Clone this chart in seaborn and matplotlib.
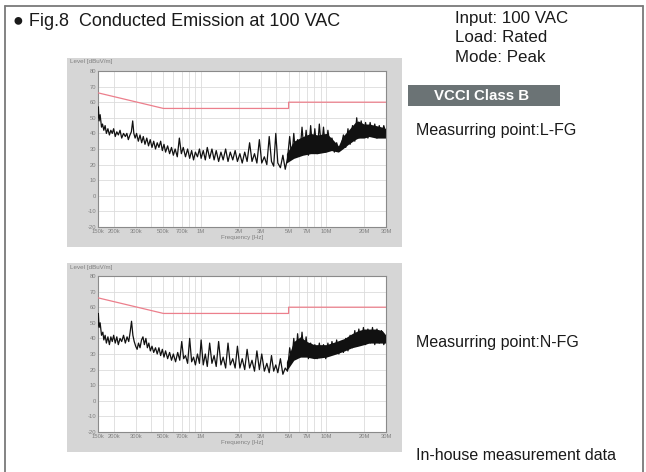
import matplotlib
matplotlib.use("Agg")
import matplotlib.pyplot as plt
from matplotlib.patches import Rectangle
from matplotlib.lines import Line2D
import seaborn as sns
import pandas as pd

# limit line (VCCI class B), MHz / dBuV
limit_freq = [0.15, 0.5, 5.0, 5.0, 30.0]
limit_level = [66, 56, 56, 60, 60]

# L-FG trace, kHz / dBuV
lfg_freq = [150, 151, 153, 156, 160, 163,
            167, 171, 175, 180, 185, 190, 195, 200, 206, 212, 218, 225, 232, 240, 248, 255, 262, 270, 277, 284, 290, 297,
            305, 315, 325, 335, 345, 356, 368, 380, 392, 405, 418, 432, 446, 460, 475, 490,
            505, 520, 540, 560, 580, 600, 620, 645, 670, 695, 720, 750, 780, 810, 840, 870, 900, 935, 970,
            1000, 1040, 1080, 1120, 1170, 1220, 1270, 1320, 1380, 1440, 1500, 1570, 1640, 1710, 1790, 1870, 1950,
            2040, 2130, 2230, 2330, 2440, 2550, 2670, 2790, 2920,
            3050, 3200, 3350, 3500, 3650, 3800, 3950, 4100, 4300, 4500, 4700, 4900,
            5100, 5300, 5500, 5700, 5900,
            6150, 6400, 6650, 6900, 7200, 7500, 7800, 8100, 8450, 8800, 9150, 9500, 9900, 10300,
            10700, 11100, 11600, 12100, 12600, 13100,
            13700, 14300, 14900, 15500, 16200, 16900,
            17500, 18200, 19000, 19800, 20600, 21500, 22400, 23400, 24400, 25400, 26500, 27600, 28800, 30000]
lfg_level = [50, 57, 48, 52, 44, 46,
             42, 45, 40, 43, 39, 42, 40, 43, 38, 41, 39, 42, 37, 40, 38, 40, 36, 39, 41, 48, 40, 37,
             40, 35, 39, 34, 38, 33, 37, 32, 36, 31, 35, 30, 34, 31, 35, 29,
             33, 28, 32, 27, 31, 26, 30, 25, 37, 27, 31, 25, 30, 24, 29, 23, 28, 25, 30,
             24, 29, 23, 31, 24, 30, 23, 29, 22, 28, 23, 30, 22, 28, 23, 29, 22,
             27, 21, 28, 22, 34, 22, 27, 21, 36,
             21, 25, 20, 38, 22, 19, 40, 21, 18, 26, 17, 24,
             38, 24, 40, 25, 36,
             27, 44, 28, 42, 26, 45, 29, 43, 27, 46, 30, 44, 28, 42,
             33, 37, 28, 34, 29, 31,
             39, 31, 43, 33, 45, 35,
             50, 37, 48, 38, 47, 37, 47, 38, 46, 37, 45, 38, 45, 40]
# dense black band of the L-FG trace, MHz / dBuV
lfg_band_freq = [4.8, 5.5, 6.5, 7.5, 8.5, 10, 11, 12.5, 13.5, 15, 17, 18, 20, 22, 25, 28, 30]
lfg_band_lo = [21, 24, 26, 27, 27, 28, 29, 28, 30, 33, 36, 37, 37, 38, 37, 37, 37]
lfg_band_hi = [27, 35, 38, 40, 39, 40, 37, 32, 38, 42, 47, 48, 46, 46, 45, 44, 43]

# N-FG trace, kHz / dBuV
nfg_freq = [150, 151, 153, 156, 160, 164,
            167, 171, 175, 180, 185, 190, 195, 200, 206, 212, 218, 225, 232, 240, 248, 256, 264, 271, 278, 285, 292,
            300, 308, 316, 325, 334, 343, 352, 362, 372, 382, 393, 405, 418, 432, 446, 460, 475, 490,
            505, 520, 540, 560, 580, 600, 625, 650, 675, 700, 725, 750, 780, 810, 840, 870, 900, 935, 970, 1000,
            1040, 1080, 1120, 1170, 1220, 1270, 1320, 1380, 1440, 1500, 1570, 1640, 1710, 1790, 1870, 1950,
            2040, 2130, 2230, 2330, 2440, 2550, 2670, 2790, 2920,
            3050, 3200, 3350, 3500, 3650, 3800, 3950, 4100, 4300, 4500, 4700, 4900,
            5100, 5300, 5500, 5700, 5900, 6150, 6400, 6650, 6900,
            7200, 7500, 7800, 8100, 8450, 8800, 9150, 9500, 9900, 10300,
            10700, 11100, 11600, 12100, 12600, 13100, 13700, 14300, 14900,
            15500, 16200, 16900, 17500, 18200, 19000, 19800, 20600, 21500, 22400, 23400, 24400, 25400, 26500, 27600, 28800, 30000]
nfg_level = [48, 56, 47, 50, 42, 44,
             39, 42, 37, 41, 36, 41, 38, 42, 37, 41, 36, 40, 38, 42, 37, 41, 38, 44, 51, 42, 38,
             35, 33, 37, 34, 39, 41, 36, 40, 34, 37, 32, 35, 31, 34, 30, 34, 29, 33,
             28, 32, 27, 31, 26, 30, 25, 31, 26, 38, 27, 29, 24, 40, 25, 28, 23, 30, 24, 39,
             23, 30, 22, 37, 24, 29, 22, 38, 23, 28, 21, 37, 23, 27, 21, 35,
             21, 27, 20, 33, 21, 26, 19, 32, 20,
             30, 19, 24, 18, 29, 19, 23, 18, 27, 17, 21, 19,
             34, 26, 40, 27, 43, 28, 44, 29, 41,
             27, 37, 28, 36, 27, 37, 28, 36, 27, 37,
             29, 38, 30, 39, 30, 38, 31, 40, 32,
             42, 34, 45, 35, 46, 36, 47, 36, 46, 37, 47, 36, 46, 37, 45, 36, 41]
nfg_band_freq = [4.8, 5.5, 6.2, 7, 8, 10, 12, 14, 16, 18, 20, 22, 25, 28, 30]
nfg_band_lo = [19, 26, 28, 28, 27, 28, 30, 32, 34, 35, 36, 37, 37, 37, 37]
nfg_band_hi = [25, 38, 41, 38, 36, 36, 38, 40, 43, 45, 46, 46, 46, 45, 42]

major_ticks = [0.15, 0.2, 0.3, 0.5, 0.7, 1, 2, 3, 5, 7, 10, 20, 30]
major_labels = ["150k", "200k", "300k", "500k", "700k", "1M", "2M", "3M", "5M", "7M", "10M", "20M", "30M"]
minor_ticks = [0.4, 0.6, 0.8, 0.9, 4, 6, 8, 9]
y_ticks = [80, 70, 60, 50, 40, 30, 20, 10, 0, -10, -20]

sns.set_style("white")
plt.rcParams['font.family'] = ['Liberation Sans', 'DejaVu Sans']
plt.rcParams['axes.unicode_minus'] = False

W, H = 646, 472
fig = plt.figure(figsize=(W / 100, H / 100), dpi=100)


def fx(px):
    return px / W


def fy(py):
    return 1 - py / H


# outer frame (open at the bottom)
frame = "#7a7a7a"
fig.add_artist(Line2D([fx(5), fx(5)], [fy(6), 0], color=frame, lw=1.3))
fig.add_artist(Line2D([fx(5), fx(643)], [fy(6), fy(6)], color=frame, lw=1.3))
fig.add_artist(Line2D([fx(643), fx(643)], [fy(6), 0], color=frame, lw=1.3))

txt = "#1a1a1a"
fig.text(fx(13), fy(22), "\u25cf Fig.8  Conducted Emission at 100 VAC", fontsize=13,
         va="center", ha="left", color=txt)
fig.text(fx(455), fy(18), "Input: 100 VAC", fontsize=12.2, va="center", color=txt)
fig.text(fx(455), fy(38), "Load: Rated", fontsize=12.2, va="center", color=txt)
fig.text(fx(455), fy(57), "Mode: Peak", fontsize=12.2, va="center", color=txt)

fig.add_artist(Rectangle((fx(408), fy(106)), fx(152), 21 / H, color="#6b7375", lw=0))
fig.text(fx(482), fy(95.5), "VCCI Class B", fontsize=10.8, fontweight="bold",
         color="white", ha="center", va="center")

fig.text(fx(416), fy(131), "Measurring point:L-FG", fontsize=11.5, va="center", color=txt)
fig.text(fx(416), fy(343), "Measurring point:N-FG", fontsize=11.5, va="center", color=txt)
fig.text(fx(416), fy(456), "In-house measurement data", fontsize=11.5, va="center", color=txt)


def emission_panel(top, freq_khz, level, band_f, band_lo, band_hi):
    # grey instrument panel behind the plot
    fig.add_artist(Rectangle((fx(67), fy(top + 189)), fx(335), 189 / H,
                             color="#d6d6d6", lw=0, zorder=0))
    ax = fig.add_axes([fx(98), fy(top + 169), fx(288), 156 / H])
    ax.set_facecolor("white")
    ax.set_xscale("log")
    ax.set_xlim(0.15, 30)
    ax.set_ylim(-20, 80)

    for t in major_ticks + minor_ticks:
        ax.axvline(t, color="#dcdcdc", lw=0.6, zorder=0)
    for t in y_ticks:
        ax.axhline(t, color="#dcdcdc", lw=0.6, zorder=0)

    ax.fill_between(band_f, band_lo, band_hi, color="#111111", lw=0, zorder=2)
    df = pd.DataFrame({"f": [v / 1000 for v in freq_khz], "lvl": level})
    sns.lineplot(data=df, x="f", y="lvl", ax=ax, color="#111111", lw=0.9,
                 sort=False, estimator=None, zorder=3)
    lim = pd.DataFrame({"f": limit_freq, "lvl": limit_level})
    sns.lineplot(data=lim, x="f", y="lvl", ax=ax, color="#ec7f8c", lw=0.9,
                 sort=False, estimator=None, zorder=3)

    ax.set_xticks(major_ticks)
    ax.set_xticklabels(major_labels)
    ax.set_xticks([], minor=True)
    ax.set_yticks(y_ticks)
    ax.tick_params(labelsize=4.2, colors="#808080", length=0, pad=1.5)
    ax.set_xlabel("Frequency [Hz]", fontsize=4.5, color="#808080", labelpad=1)
    ax.set_ylabel("")
    for s in ax.spines.values():
        s.set_color("#8a8a8a")
        s.set_linewidth(0.8)
    fig.text(fx(70), fy(top + 4), "Level [dBuV/m]", fontsize=4.5, color="#808080", va="center")
    return ax


emission_panel(58, lfg_freq, lfg_level, lfg_band_freq, lfg_band_lo, lfg_band_hi)
emission_panel(263, nfg_freq, nfg_level, nfg_band_freq, nfg_band_lo, nfg_band_hi)

fig.savefig("out.png", dpi=100)
